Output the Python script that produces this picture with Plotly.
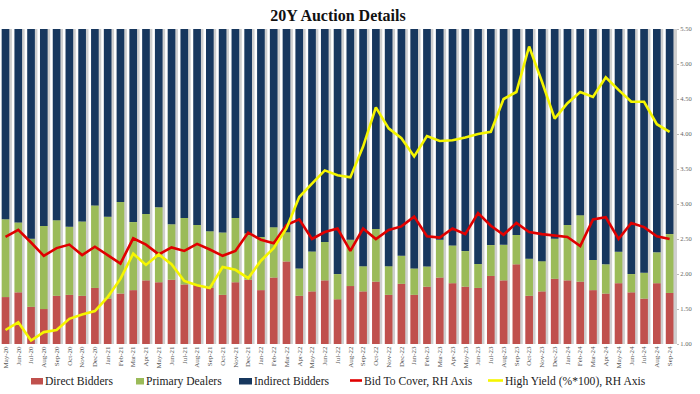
import plotly.graph_objects as go
import pandas as pd

months = pd.date_range("2020-05-01", "2024-09-01", freq="MS").strftime("%b-%y").tolist()

direct = [14.9, 16.4, 11.8, 11.1, 15.3, 15.6, 15.3, 17.8, 14.4, 16.0, 17.1, 20.2, 19.6, 20.4,
          18.9, 18.7, 17.8, 15.6, 19.6, 20.4, 17.1, 21.1, 26.2, 15.3, 16.7, 20.2, 14.2, 18.4,
          16.7, 19.8, 15.6, 19.1, 15.6, 18.2, 21.1, 19.3, 18.2, 17.8, 21.6, 20.2, 25.3, 15.3,
          16.7, 20.7, 20.2, 19.8, 17.1, 16.0, 19.3, 16.4, 14.4, 19.3, 16.2]
primary = [24.7, 22.2, 21.6, 26.4, 24.0, 21.6, 23.6, 26.2, 26.0, 29.1, 21.6, 21.1, 23.8, 17.6,
           21.1, 19.1, 18.0, 19.8, 20.4, 14.7, 16.9, 16.0, 9.3, 8.7, 12.7, 12.2, 8.0, 14.7,
           8.0, 16.7, 9.1, 8.9, 8.4, 6.4, 12.0, 12.0, 11.3, 7.6, 9.8, 11.3, 9.3, 11.8,
           9.6, 12.7, 17.6, 21.1, 9.6, 9.3, 10.0, 5.8, 8.2, 9.8, 18.7]
indirect = [60.4, 61.4, 66.6, 62.5, 60.7, 62.8, 61.1, 56.0, 59.6, 54.9, 61.3, 58.7, 56.6, 62.0,
            60.0, 62.2, 64.2, 64.6, 60.0, 64.9, 66.0, 62.9, 64.5, 76.0, 70.6, 67.6, 77.8, 66.9,
            75.3, 63.5, 75.3, 72.0, 76.0, 75.4, 66.9, 68.7, 70.5, 74.6, 68.6, 68.5, 65.4, 72.9,
            73.7, 66.6, 62.2, 59.1, 73.3, 74.7, 70.7, 77.8, 77.4, 70.9, 65.1]
bid_to_cover = [2.53, 2.63, 2.45, 2.26, 2.37, 2.42, 2.27, 2.39, 2.27, 2.15, 2.51, 2.42, 2.28, 2.38,
                2.33, 2.43, 2.35, 2.26, 2.33, 2.59, 2.49, 2.44, 2.70, 2.78, 2.50, 2.60, 2.65, 2.33,
                2.65, 2.50, 2.63, 2.68, 2.82, 2.54, 2.52, 2.65, 2.57, 2.87, 2.69, 2.56, 2.73, 2.60,
                2.57, 2.55, 2.53, 2.40, 2.78, 2.81, 2.50, 2.73, 2.67, 2.54, 2.50]
high_yield = [1.20, 1.31, 1.05, 1.17, 1.20, 1.36, 1.42, 1.47, 1.67, 1.93, 2.29, 2.13, 2.28, 2.14,
              1.90, 1.84, 1.80, 2.10, 2.06, 1.94, 2.19, 2.37, 2.65, 3.10, 3.29, 3.48, 3.41, 3.38,
              3.82, 4.38, 4.08, 3.94, 3.68, 3.97, 3.90, 3.91, 3.95, 4.00, 4.03, 4.50, 4.60, 5.25,
              4.75, 4.22, 4.44, 4.60, 4.53, 4.81, 4.63, 4.46, 4.46, 4.14, 4.03]
series_names = ["Direct Bidders", "Primary Dealers", "Indirect Bidders",
                "Bid To Cover, RH Axis", "High Yield (%*100), RH Axis"]

C_DIR, C_PRI, C_IND, C_BTC, C_HY = "#c0504d", "#9bbb59", "#17375e", "#e00000", "#f5f500"
FONT = "Liberation Serif, Times New Roman, serif"
W = 0.6
FIG_W, FIG_H = 700, 394
M_L, M_R, M_T, M_B = 0, 24, 29, 50
PW, PH = FIG_W - M_L - M_R, FIG_H - M_T - M_B

total = [d + p + i for d, p, i in zip(direct, primary, indirect)]
base_pri = list(direct)
base_ind = [d + p for d, p in zip(direct, primary)]

fig = go.Figure()
fig.add_trace(go.Bar(x=months, y=total, base=[0] * len(total), width=W, offset=-W / 2 + 0.2,
                     marker=dict(color="#cfcfcf", line_width=0), showlegend=False, hoverinfo="skip"))
fig.add_trace(go.Bar(x=months, y=direct, base=[0] * len(direct), width=W, offset=-W / 2,
                     name=series_names[0], marker=dict(color=C_DIR, line_width=0)))
fig.add_trace(go.Bar(x=months, y=primary, base=base_pri, width=W, offset=-W / 2,
                     name=series_names[1], marker=dict(color=C_PRI, line_width=0)))
fig.add_trace(go.Bar(x=months, y=indirect, base=base_ind, width=W, offset=-W / 2,
                     name=series_names[2], marker=dict(color=C_IND, line_width=0)))
fig.add_trace(go.Scatter(x=months, y=bid_to_cover, yaxis="y2", mode="lines",
                         name=series_names[3], line=dict(color=C_BTC, width=2.6)))
fig.add_trace(go.Scatter(x=months, y=high_yield, yaxis="y2", mode="lines",
                         name=series_names[4], line=dict(color=C_HY, width=2.6)))


# manual legend row (pixel layout -> paper coords)
def px_x(px):
    return (px - M_L) / PW


def px_y(py):
    return (FIG_H - M_B - py) / PH


LEG_Y = 381.5
legend_kinds = ["rect", "rect", "rect", "line", "line"]
legend_cols = [C_DIR, C_PRI, C_IND, C_BTC, C_HY]
legend_sym_x = [31, 136, 239, 350, 488]
legend_txt_x = [43, 144, 252, 362, 503]

shapes = []
annotations = []
for kind, col, sx, tx, name in zip(legend_kinds, legend_cols, legend_sym_x, legend_txt_x, series_names):
    if kind == "rect":
        shapes.append(dict(type="rect", xref="paper", yref="paper", x0=px_x(sx), x1=px_x(tx),
                           y0=px_y(LEG_Y + 3), y1=px_y(LEG_Y - 3.5), fillcolor=col, line_width=0))
    else:
        shapes.append(dict(type="line", xref="paper", yref="paper", x0=px_x(sx), x1=px_x(tx),
                           y0=px_y(LEG_Y - 1), y1=px_y(LEG_Y - 1), line=dict(color=col, width=2.6)))
    annotations.append(dict(text=name, xref="paper", yref="paper", x=px_x(tx), y=px_y(LEG_Y),
                            xanchor="left", yanchor="middle", showarrow=False,
                            font=dict(family=FONT, size=11.6, color="#222")))

fig.update_layout(
    width=FIG_W, height=FIG_H,
    margin=dict(l=M_L, r=M_R, t=M_T, b=M_B),
    barmode="overlay",
    showlegend=False,
    plot_bgcolor="white", paper_bgcolor="white",
    font=dict(family=FONT, color="#222"),
    title=dict(text="<b>20Y Auction Details</b>", x=0.5, xref="paper", y=1 - 15 / FIG_H,
               yref="container", yanchor="middle", xanchor="center",
               font=dict(family=FONT, size=16, color="#111")),
    xaxis=dict(type="category", range=[-0.43, 52.5], tickangle=-90, showgrid=False,
               tickfont=dict(family=FONT, size=7, color="#555"), ticks="", showline=False,
               zeroline=False),
    yaxis=dict(range=[0, 100], visible=False, showgrid=False),
    yaxis2=dict(range=[1, 5.5], overlaying="y", side="right", showgrid=False, zeroline=False,
                tickvals=[1, 1.5, 2, 2.5, 3, 3.5, 4, 4.5, 5, 5.5], tickformat=".2f",
                tickfont=dict(family=FONT, size=6.5, color="#666"), ticks="outside", ticklen=2,
                tickcolor="#bbb", showline=True, linecolor="#d0d0d0", linewidth=1),
    shapes=shapes,
    annotations=annotations,
)

fig.write_html("out.html", config={"displayModeBar": False},
               post_script="document.body.style.margin='0';document.body.style.overflow='hidden';")
